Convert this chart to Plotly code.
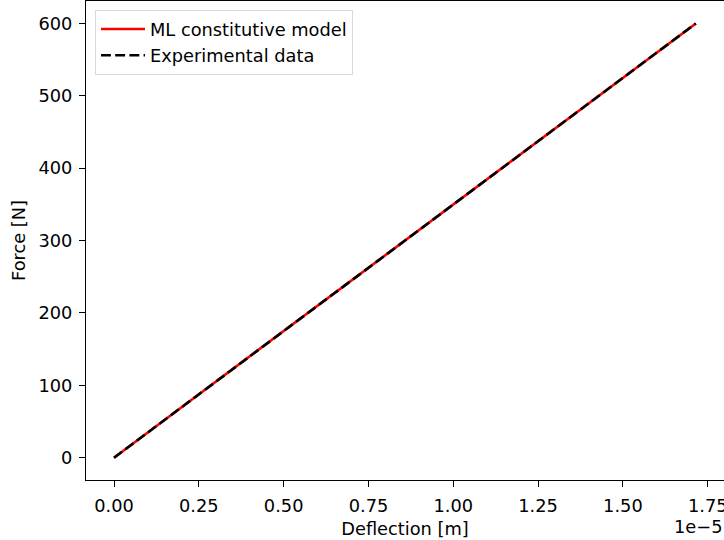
import plotly.graph_objects as go

# Data
deflection_model = [0.0, 1.715e-5]
force_model = [0.0, 600.0]
deflection_exp = [0.0, 1.715e-5]
force_exp = [0.0, 600.0]

x_tickvals = [0.0, 0.25e-5, 0.50e-5, 0.75e-5, 1.00e-5, 1.25e-5, 1.50e-5, 1.75e-5]
x_ticktext = ["0.00", "0.25", "0.50", "0.75", "1.00", "1.25", "1.50", "1.75"]
y_tickvals = [0, 100, 200, 300, 400, 500, 600]

FONT = "DejaVu Sans"
FS = 17.8

fig = go.Figure()
fig.add_trace(go.Scatter(
    x=deflection_model, y=force_model, mode="lines",
    name="ML constitutive model",
    line=dict(color="red", width=2.6),
))
fig.add_trace(go.Scatter(
    x=deflection_exp, y=force_exp, mode="lines",
    name="Experimental data",
    line=dict(color="black", width=2.6, dash="9.9px,4.3px"),
))

fig.update_layout(
    width=724, height=540,
    margin=dict(l=86, r=0, t=1, b=60, autoexpand=False),
    paper_bgcolor="white", plot_bgcolor="white",
    font=dict(family=FONT, size=FS, color="black"),
    showlegend=True,
    legend=dict(
        x=(95 - 86) / 638, y=(480 - 10) / 479, xanchor="left", yanchor="top",
        bgcolor="rgba(255,255,255,0.8)", bordercolor="#d9d9d9", borderwidth=1,
        itemwidth=44,
        font=dict(family=FONT, size=FS, color="black"),
    ),
    xaxis=dict(
        range=[-0.0826e-5, 1.798e-5],
        tickvals=x_tickvals, ticktext=x_ticktext,
        ticklabeloverflow="allow", ticklabelstandoff=4,
        showgrid=False, zeroline=False, automargin=False,
        showline=True, linecolor="black", linewidth=1.2, mirror=True,
        ticks="outside", ticklen=6, tickwidth=1.2, tickcolor="black",
        title=dict(text="Deflection [m]", standoff=7,
                   font=dict(family=FONT, size=FS, color="black")),
    ),
    yaxis=dict(
        range=[-30.8, 631.0],
        tickvals=y_tickvals,
        ticklabelstandoff=3,
        showgrid=False, zeroline=False, automargin=False,
        showline=True, linecolor="black", linewidth=1.2, mirror=True,
        ticks="outside", ticklen=6, tickwidth=1.2, tickcolor="black",
        title=dict(text="Force [N]", standoff=8,
                   font=dict(family=FONT, size=FS, color="black")),
    ),
)

fig.add_annotation(
    text="1e\u22125", xref="paper", yref="paper",
    x=1.0, y=(480 - 526) / 479, xanchor="right", yanchor="middle",
    showarrow=False, font=dict(family=FONT, size=FS, color="black"),
)

fig.write_html(
    "out.html",
    config={"displayModeBar": False},
    post_script="document.body.style.margin='0';document.body.style.overflow='hidden';",
)
